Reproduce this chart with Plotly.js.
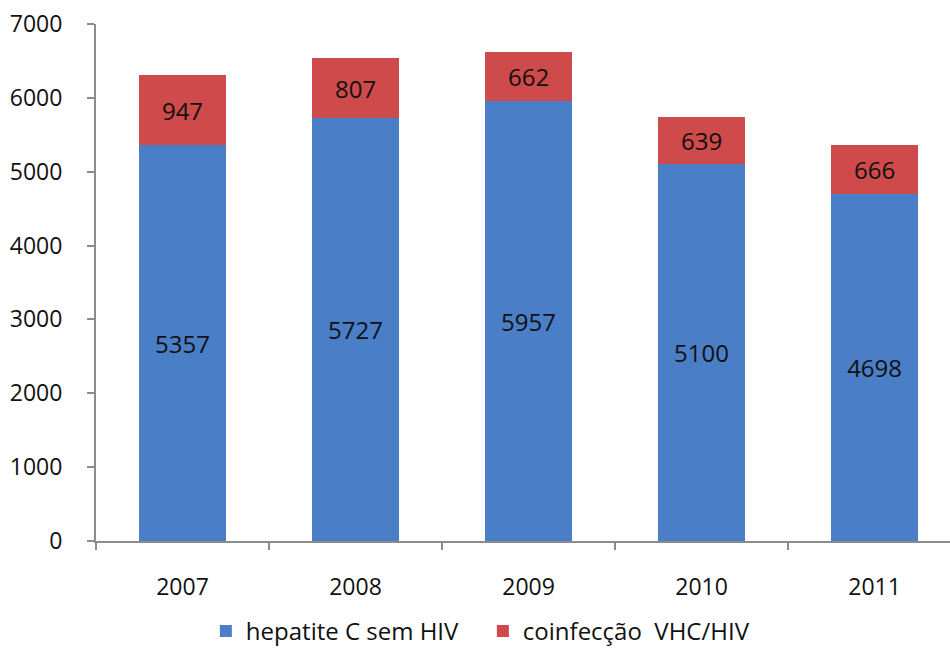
<!DOCTYPE html>
<html>
<head>
<meta charset="utf-8">
<script src="https://cdn.plot.ly/plotly-3.0.1.min.js"></script>
<style>html,body{margin:0;padding:0;background:#fff;}#chart{width:950px;height:654px;}</style>
</head>
<body>
<div id="chart"></div>
<script>
const years = ['2007', '2008', '2009', '2010', '2011'];
const semHIV = [5357, 5727, 5957, 5100, 4698];
const coinfeccao = [947, 807, 662, 639, 666];
const seriesNames = ['hepatite C sem HIV', 'coinfecção  VHC/HIV'];
const yTicks = [0, 1000, 2000, 3000, 4000, 5000, 6000, 7000];

const fontFam = '"Open Sans", "Noto Sans", sans-serif';

const traces = [
  {
    type: 'bar', name: seriesNames[0], x: years, y: semHIV,
    marker: {color: '#4A7EC6'}, width: 0.5,
    text: semHIV.map(String), textposition: 'inside', insidetextanchor: 'middle',
    textfont: {color: '#111', size: 24, family: fontFam}, constraintext: 'none',
    hoverinfo: 'x+y'
  },
  {
    type: 'bar', name: seriesNames[1], x: years, y: coinfeccao,
    marker: {color: '#CF4A4A'}, width: 0.5,
    text: coinfeccao.map(String), textposition: 'inside', insidetextanchor: 'middle',
    textfont: {color: '#111', size: 24, family: fontFam}, constraintext: 'none',
    hoverinfo: 'x+y'
  }
];

const layout = {
  width: 950, height: 654,
  barmode: 'stack',
  margin: {l: 96, r: 0, t: 24, b: 110},
  paper_bgcolor: '#fff', plot_bgcolor: '#fff',
  font: {family: fontFam, color: '#111', size: 23},
  showlegend: true,
  legend: {orientation: 'h', x: 0.453, xanchor: 'center', y: -0.175, yanchor: 'middle',
           font: {size: 24, family: fontFam}, traceorder: 'normal', itemwidth: 30,
           entrywidth: 232},
  xaxis: {
    type: 'category', range: [-0.5, 4.436],
    showline: true, linecolor: '#8c8c8c', linewidth: 2,
    ticks: 'outside', tickson: 'boundaries', ticklen: 7, tickcolor: '#8c8c8c', tickwidth: 2,
    showgrid: false, zeroline: false, ticklabelstandoff: 24,
    tickfont: {size: 23, family: fontFam}
  },
  yaxis: {
    range: [0, 7000], tickvals: yTicks, ticktext: yTicks.map(String),
    showline: true, linecolor: '#8c8c8c', linewidth: 2,
    ticks: 'outside', ticklen: 7, tickcolor: '#8c8c8c', tickwidth: 2,
    showgrid: false, zeroline: false, ticklabelstandoff: 20,
    tickfont: {size: 23, family: fontFam}
  }
};

Plotly.newPlot('chart', traces, layout, {displayModeBar: false, staticPlot: true});
</script>
</body>
</html>
